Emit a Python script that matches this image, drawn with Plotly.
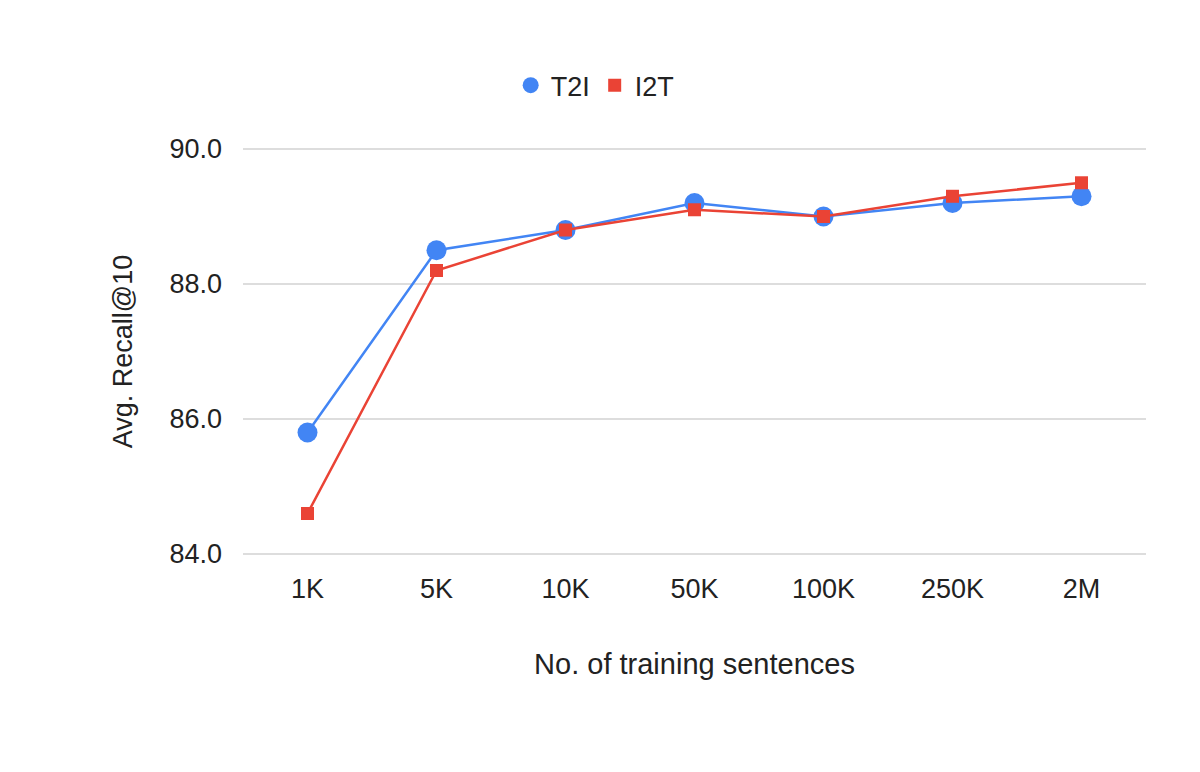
import plotly.graph_objects as go

categories = ["1K", "5K", "10K", "50K", "100K", "250K", "2M"]
t2i = [85.8, 88.5, 88.8, 89.2, 89.0, 89.2, 89.3]
i2t = [84.6, 88.2, 88.8, 89.1, 89.0, 89.3, 89.5]
yticks = [84, 86, 88, 90]

BLUE = "#4285F4"
RED = "#EA4335"

fig = go.Figure()
fig.add_trace(go.Scatter(x=categories, y=t2i, name="T2I", mode="lines+markers", showlegend=False,
                         line=dict(color=BLUE, width=2.5),
                         marker=dict(symbol="circle", size=20, color=BLUE)))
fig.add_trace(go.Scatter(x=categories, y=i2t, name="I2T", mode="lines+markers", showlegend=False,
                         line=dict(color=RED, width=2.5),
                         marker=dict(symbol="square", size=13, color=RED)))
# legend entries (marker only)
fig.add_trace(go.Scatter(x=[None], y=[None], name="T2I", mode="markers",
                         marker=dict(symbol="circle", size=20, color=BLUE)))
fig.add_trace(go.Scatter(x=[None], y=[None], name="I2T", mode="markers",
                         marker=dict(symbol="square", size=13, color=RED)))

fig.update_layout(
    width=1200, height=772,
    paper_bgcolor="white", plot_bgcolor="white",
    margin=dict(l=235, r=62, t=139, b=224),
    font=dict(family="Liberation Sans, Arial, sans-serif", size=27, color="#222222"),
    legend=dict(orientation="h", x=0.39, xanchor="center", y=1.15, yanchor="middle",
                font=dict(size=27)),
    xaxis=dict(type="category", range=[-0.5, 6.5], showgrid=False, ticks="",
               ticklabelstandoff=14,
               title=dict(text="No. of training sentences", standoff=50, font=dict(size=29)),
               tickfont=dict(size=27)),
    yaxis=dict(range=[83.97, 90.03], tickvals=yticks, tickformat=".1f",
               gridcolor="#dddddd", gridwidth=1.5, zeroline=False,
               ticklabelstandoff=20,
               title=dict(text="Avg. Recall@10", standoff=28, font=dict(size=27)),
               tickfont=dict(size=27)),
)
fig.write_html("out.html")
